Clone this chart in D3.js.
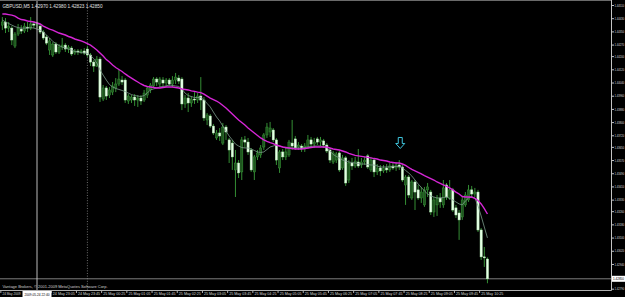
<!DOCTYPE html>
<html><head><meta charset="utf-8">
<script src="https://cdn.jsdelivr.net/npm/d3@7"></script>
<style>html,body{margin:0;padding:0;background:#000;overflow:hidden}</style>
</head><body><svg id="c" width="625" height="297"></svg>
<script>
const symbolLabel = "GBPUSD,M5";
const open = [1.44388,1.44407,1.44370,1.44370,1.44261,1.44334,1.44364,1.44352,1.44376,1.44370,
1.44395,1.44388,1.44382,1.44346,1.44316,1.44237,1.44207,1.44273,1.44225,1.44255,
1.44267,1.44243,1.44249,1.44219,1.44231,1.44225,1.44231,1.44243,1.44207,1.44164,
1.44140,1.44182,1.43940,1.44007,1.43964,1.43982,1.44007,1.44031,1.44055,1.44055,
1.43928,1.43934,1.43952,1.43934,1.43946,1.43934,1.43964,1.43995,1.44019,1.44061,
1.44031,1.44055,1.44037,1.44055,1.44031,1.44055,1.44067,1.44061,1.43910,1.43946,
1.43916,1.43940,1.43934,1.43958,1.43934,1.43813,1.43837,1.43776,1.43704,1.43734,
1.43673,1.43770,1.43692,1.43673,1.43510,1.43552,1.43498,1.43692,1.43679,1.43631,
1.43498,1.43589,1.43601,1.43649,1.43722,1.43740,1.43752,1.43692,1.43522,1.43619,
1.43589,1.43601,1.43673,1.43698,1.43649,1.43655,1.43637,1.43649,1.43692,1.43667,
1.43698,1.43679,1.43686,1.43661,1.43631,1.43558,1.43570,1.43613,1.43522,1.43583,
1.43449,1.43552,1.43534,1.43558,1.43540,1.43558,1.43595,1.43510,1.43570,1.43498,
1.43522,1.43504,1.43522,1.43510,1.43534,1.43522,1.43540,1.43528,1.43419,1.43467,
1.43340,1.43437,1.43389,1.43340,1.43298,1.43389,1.43376,1.43255,1.43298,1.43340,
1.43298,1.43419,1.43340,1.43389,1.43280,1.43249,1.43225,1.43298,1.43328,1.43389,
1.43364,1.43376,1.43146,1.42983,1.42970];
const high = [1.44437,1.44431,1.44407,1.44382,1.44346,1.44395,1.44388,1.44401,1.44407,1.44437,
1.44413,1.44407,1.44395,1.44358,1.44328,1.44310,1.44285,1.44285,1.44273,1.44310,
1.44279,1.44267,1.44261,1.44243,1.44243,1.44243,1.44249,1.44261,1.44219,1.44176,
1.44201,1.44195,1.44025,1.44019,1.44013,1.44043,1.44067,1.44116,1.44079,1.44067,
1.43970,1.43964,1.43970,1.43964,1.43964,1.43995,1.44019,1.44037,1.44073,1.44073,
1.44073,1.44073,1.44067,1.44067,1.44079,1.44098,1.44085,1.44073,1.43964,1.43976,
1.43958,1.43982,1.43976,1.44073,1.43952,1.43855,1.43849,1.43789,1.43752,1.43764,
1.43795,1.43782,1.43704,1.43692,1.43631,1.43570,1.43710,1.43716,1.43704,1.43643,
1.43601,1.43631,1.43661,1.43734,1.43795,1.43801,1.43764,1.43704,1.43631,1.43637,
1.43643,1.43692,1.43813,1.43716,1.43679,1.43667,1.43673,1.43722,1.43710,1.43704,
1.43710,1.43710,1.43698,1.43673,1.43643,1.43625,1.43619,1.43625,1.43601,1.43595,
1.43570,1.43583,1.43589,1.43637,1.43583,1.43589,1.43607,1.43589,1.43583,1.43546,
1.43540,1.43540,1.43546,1.43552,1.43552,1.43558,1.43570,1.43540,1.43479,1.43479,
1.43449,1.43449,1.43419,1.43407,1.43407,1.43431,1.43389,1.43346,1.43358,1.43370,
1.43449,1.43431,1.43449,1.43401,1.43298,1.43267,1.43346,1.43376,1.43419,1.43413,
1.43401,1.43389,1.43158,1.43043,1.42980];
const low = [1.44358,1.44340,1.44346,1.44267,1.44249,1.44322,1.44334,1.44340,1.44346,1.44358,
1.44370,1.44370,1.44334,1.44298,1.44267,1.44207,1.44195,1.44213,1.44213,1.44237,
1.44225,1.44219,1.44201,1.44207,1.44207,1.44213,1.44207,1.44195,1.44140,1.44104,
1.44134,1.43922,1.43928,1.43934,1.43946,1.43964,1.43982,1.44019,1.44025,1.43916,
1.43910,1.43916,1.43898,1.43892,1.43904,1.43922,1.43946,1.43976,1.44007,1.44019,
1.44013,1.44019,1.44013,1.44019,1.44013,1.44031,1.44031,1.43873,1.43886,1.43861,
1.43892,1.43910,1.43916,1.43873,1.43807,1.43782,1.43764,1.43722,1.43692,1.43686,
1.43661,1.43692,1.43552,1.43510,1.43346,1.43461,1.43449,1.43643,1.43601,1.43498,
1.43449,1.43570,1.43583,1.43631,1.43704,1.43710,1.43679,1.43540,1.43492,1.43570,
1.43570,1.43589,1.43631,1.43631,1.43631,1.43619,1.43619,1.43637,1.43649,1.43643,
1.43661,1.43655,1.43643,1.43613,1.43552,1.43546,1.43552,1.43498,1.43510,1.43413,
1.43431,1.43510,1.43522,1.43522,1.43522,1.43540,1.43516,1.43498,1.43467,1.43479,
1.43473,1.43492,1.43492,1.43498,1.43510,1.43504,1.43510,1.43437,1.43298,1.43340,
1.43328,1.43267,1.43328,1.43310,1.43286,1.43346,1.43237,1.43225,1.43231,1.43280,
1.43280,1.43328,1.43328,1.43255,1.43219,1.43086,1.43207,1.43286,1.43316,1.43340,
1.43346,1.43134,1.42964,1.42922,1.42823];
const close = [1.44407,1.44370,1.44382,1.44298,1.44334,1.44370,1.44352,1.44382,1.44370,1.44395,
1.44388,1.44395,1.44346,1.44310,1.44279,1.44292,1.44273,1.44225,1.44255,1.44267,
1.44243,1.44255,1.44213,1.44231,1.44225,1.44231,1.44219,1.44207,1.44164,1.44140,
1.44182,1.43952,1.44007,1.43958,1.43995,1.44019,1.44031,1.44061,1.44043,1.43934,
1.43958,1.43952,1.43934,1.43946,1.43928,1.43976,1.44007,1.44025,1.44061,1.44043,
1.44061,1.44037,1.44055,1.44031,1.44055,1.44073,1.44049,1.43910,1.43946,1.43916,
1.43940,1.43934,1.43958,1.43934,1.43825,1.43843,1.43776,1.43734,1.43734,1.43716,
1.43770,1.43740,1.43631,1.43589,1.43552,1.43492,1.43692,1.43679,1.43619,1.43510,
1.43589,1.43613,1.43643,1.43722,1.43770,1.43764,1.43692,1.43570,1.43619,1.43589,
1.43619,1.43679,1.43655,1.43643,1.43661,1.43637,1.43655,1.43692,1.43667,1.43679,
1.43679,1.43692,1.43661,1.43625,1.43570,1.43613,1.43607,1.43510,1.43583,1.43431,
1.43552,1.43534,1.43564,1.43534,1.43558,1.43570,1.43528,1.43570,1.43498,1.43522,
1.43504,1.43522,1.43510,1.43534,1.43522,1.43540,1.43528,1.43449,1.43467,1.43358,
1.43437,1.43376,1.43340,1.43376,1.43389,1.43407,1.43255,1.43328,1.43340,1.43316,
1.43401,1.43346,1.43389,1.43267,1.43237,1.43207,1.43328,1.43358,1.43389,1.43364,
1.43376,1.43146,1.42983,1.42977,1.42850];
const maSlow = [1.44455,1.44455,1.44452,1.44449,1.44443,1.44431,1.44422,1.44419,1.44413,1.44410,
1.44407,1.44401,1.44395,1.44382,1.44373,1.44364,1.44358,1.44349,1.44340,1.44334,
1.44328,1.44319,1.44313,1.44304,1.44298,1.44292,1.44285,1.44276,1.44267,1.44252,
1.44237,1.44219,1.44201,1.44179,1.44164,1.44146,1.44131,1.44119,1.44107,1.44092,
1.44079,1.44067,1.44055,1.44043,1.44031,1.44022,1.44016,1.44013,1.44010,1.44007,
1.44007,1.44010,1.44013,1.44013,1.44013,1.44010,1.44007,1.44001,1.43998,1.43995,
1.43989,1.43986,1.43982,1.43979,1.43970,1.43958,1.43946,1.43937,1.43928,1.43916,
1.43901,1.43886,1.43867,1.43849,1.43831,1.43813,1.43798,1.43782,1.43764,1.43749,
1.43734,1.43719,1.43704,1.43692,1.43683,1.43676,1.43670,1.43661,1.43655,1.43649,
1.43646,1.43643,1.43640,1.43637,1.43637,1.43637,1.43640,1.43643,1.43646,1.43649,
1.43649,1.43649,1.43649,1.43649,1.43643,1.43637,1.43634,1.43631,1.43625,1.43619,
1.43610,1.43604,1.43598,1.43595,1.43592,1.43589,1.43586,1.43583,1.43579,1.43576,
1.43570,1.43567,1.43564,1.43558,1.43555,1.43552,1.43552,1.43546,1.43537,1.43525,
1.43513,1.43504,1.43495,1.43486,1.43476,1.43467,1.43458,1.43449,1.43437,1.43428,
1.43419,1.43410,1.43401,1.43389,1.43376,1.43364,1.43349,1.43346,1.43346,1.43346,
1.43337,1.43325,1.43304,1.43276,1.43243];
const maFast = [1.44419,1.44407,1.44398,1.44388,1.44379,1.44373,1.44370,1.44370,1.44370,1.44373,
1.44370,1.44364,1.44358,1.44346,1.44328,1.44310,1.44289,1.44276,1.44264,1.44255,
1.44249,1.44243,1.44237,1.44228,1.44225,1.44222,1.44219,1.44216,1.44204,1.44185,
1.44158,1.44116,1.44085,1.44055,1.44028,1.44013,1.44004,1.43998,1.43992,1.43985,
1.43976,1.43967,1.43961,1.43958,1.43955,1.43961,1.43976,1.43995,1.44001,1.44007,
1.44013,1.44016,1.44019,1.44025,1.44022,1.44019,1.44016,1.44001,1.43976,1.43961,
1.43955,1.43949,1.43949,1.43949,1.43934,1.43913,1.43892,1.43861,1.43831,1.43807,
1.43776,1.43746,1.43716,1.43692,1.43667,1.43655,1.43646,1.43643,1.43643,1.43637,
1.43628,1.43619,1.43616,1.43619,1.43634,1.43649,1.43655,1.43661,1.43655,1.43649,
1.43643,1.43643,1.43643,1.43643,1.43643,1.43643,1.43646,1.43649,1.43652,1.43655,
1.43655,1.43655,1.43649,1.43643,1.43625,1.43604,1.43592,1.43583,1.43570,1.43564,
1.43558,1.43555,1.43552,1.43549,1.43546,1.43546,1.43543,1.43540,1.43540,1.43534,
1.43528,1.43528,1.43528,1.43528,1.43531,1.43531,1.43531,1.43522,1.43507,1.43492,
1.43473,1.43449,1.43425,1.43404,1.43383,1.43364,1.43352,1.43346,1.43340,1.43340,
1.43343,1.43346,1.43337,1.43328,1.43316,1.43304,1.43298,1.43322,1.43340,1.43346,
1.43340,1.43292,1.43231,1.43164,1.43098];
const yTickValues = [1.4451,1.4443,1.4435,1.4427,1.4420,1.4412,1.4404,1.4396,1.4388,1.4380,1.4372,
1.4365,1.4357,1.4349,1.4341,1.4333,1.4326,1.4318,1.4310,1.4302,1.4294,1.4279];
const xTickBars = [0,16,24,32,40,48,56,64,72,80,88,96,104,112,120,128,136,144,152];
const xTickLabels = ["24 May 2009","24 May 23:05","24 May 23:45","25 May 00:25","25 May 01:05",
"25 May 01:45","25 May 02:25","25 May 03:05","25 May 03:45","25 May 04:25","25 May 05:05",
"25 May 05:45","25 May 06:25","25 May 07:05","25 May 07:45","25 May 08:25","25 May 09:05",
"25 May 09:45","25 May 10:25"];
const vlineBar = 11, vlineLabel = "2009.05.24 22:40";
const separatorBar = 27;
const bidPrice = 1.42850;
const arrowBar = 126, arrowPrice = 1.43640;
const copyright = "Vantage Brokers, \u00a9 2001-2009 MetaQuotes Software Corp.";

const W = 625, H = 297, plotRight = 611.5, plotBottom = 290.5;
const svg = d3.select("#c");
svg.append("rect").attr("width", W).attr("height", H).attr("fill", "#000");

const x = d3.scaleLinear().domain([0, open.length - 1]).range([2.35, 487.45]);
const y = d3.scaleLinear().domain([1.4279, 1.4451]).range([288.7, 5]);
const FONT = "Liberation Sans, Arial, sans-serif";

svg.append("defs").append("clipPath").attr("id", "plot")
  .append("rect").attr("x", 0).attr("y", 0).attr("width", plotRight).attr("height", plotBottom);
const g = svg.append("g").attr("clip-path", "url(#plot)");

// period separator (dotted)
g.append("line").attr("x1", x(separatorBar)).attr("x2", x(separatorBar))
  .attr("y1", 0).attr("y2", plotBottom).attr("stroke", "#8a8a8a")
  .attr("stroke-width", 0.8).attr("stroke-dasharray", "1,1.6");

// bid line
g.append("line").attr("x1", 0).attr("x2", plotRight).attr("y1", y(bidPrice)).attr("y2", y(bidPrice))
  .attr("stroke", "#8c8c8c").attr("stroke-width", 0.9);

// candles
const bars = d3.range(open.length);
g.selectAll(".wick").data(bars).join("line").attr("class", "wick")
  .attr("x1", i => x(i)).attr("x2", i => x(i))
  .attr("y1", i => y(high[i])).attr("y2", i => y(low[i]))
  .attr("stroke", "#3a9e3a").attr("stroke-width", 0.9);
g.selectAll(".body").data(bars).join("rect").attr("class", "body")
  .attr("x", i => x(i) - 1.1).attr("width", 2.2)
  .attr("y", i => y(Math.max(open[i], close[i])))
  .attr("height", i => Math.max(0.7, Math.abs(y(open[i]) - y(close[i]))))
  .attr("fill", i => close[i] >= open[i] ? "#1f561f" : "#e6ffe6")
  .attr("stroke", i => close[i] >= open[i] ? "#3a9e3a" : "#b5eeb5")
  .attr("stroke-width", 0.45);

// moving averages
const ln = d3.line().x((d, i) => x(i)).y(d => y(d));
g.append("path").datum(maFast).attr("d", ln).attr("fill", "none")
  .attr("stroke", "#7c9c8c").attr("stroke-width", 0.8);
g.append("path").datum(maSlow).attr("d", ln).attr("fill", "none")
  .attr("stroke", "#d626d6").attr("stroke-width", 1.4);

// arrow object
const ax = x(arrowBar) + 1, ay = y(arrowPrice);
g.append("path")
  .attr("d", `M${ax},${ay} L${ax-4.5},${ay-5} L${ax-2},${ay-5} L${ax-2},${ay-11} L${ax+2},${ay-11} L${ax+2},${ay-5} L${ax+4.5},${ay-5} Z`)
  .attr("fill", "none").attr("stroke", "#3fc4dc").attr("stroke-width", 1);

// vertical line object
svg.append("line").attr("x1", x(vlineBar)).attr("x2", x(vlineBar))
  .attr("y1", 0).attr("y2", H).attr("stroke", "#cfcfcf").attr("stroke-width", 0.9);

// frame
svg.append("line").attr("x1", 0).attr("x2", plotRight).attr("y1", 0.5).attr("y2", 0.5)
  .attr("stroke", "#6a6a6a").attr("stroke-width", 1);
svg.append("line").attr("x1", plotRight).attr("x2", plotRight).attr("y1", 0).attr("y2", plotBottom)
  .attr("stroke", "#c4c4c4").attr("stroke-width", 1);
svg.append("line").attr("x1", 0).attr("x2", plotRight).attr("y1", plotBottom).attr("y2", plotBottom)
  .attr("stroke", "#b0b0b0").attr("stroke-width", 1);

// y axis
const yAxis = d3.axisRight(y).tickValues(yTickValues).tickSize(2.5).tickSizeOuter(0)
  .tickFormat(d3.format(".5f"));
svg.append("g").attr("transform", `translate(${plotRight},0)`).call(yAxis)
  .attr("font-family", FONT).attr("font-size", 3.8)
  .call(a => a.select(".domain").remove())
  .call(a => a.selectAll("line").attr("stroke", "#c4c4c4"))
  .call(a => a.selectAll("text").attr("fill", "#d6d6d6").attr("x", 3)
     .attr("textLength", 9.8).attr("lengthAdjust", "spacingAndGlyphs"));

// x axis
const xAxis = d3.axisBottom(x).tickValues(xTickBars).tickSize(2.5).tickSizeOuter(0)
  .tickFormat((d, i) => xTickLabels[i]);
svg.append("g").attr("transform", `translate(-2,${plotBottom})`).call(xAxis)
  .attr("font-family", FONT).attr("font-size", 4.3)
  .call(a => a.select(".domain").remove())
  .call(a => a.selectAll("line").attr("stroke", "#b0b0b0"))
  .call(a => a.selectAll("text").attr("fill", "#d6d6d6").attr("text-anchor", "start")
     .attr("x", 1.6).attr("y", 1.6)
     .attr("textLength", (d, i) => i === 0 ? 18 : 22).attr("lengthAdjust", "spacingAndGlyphs"));

// vertical line label box
const vx = x(vlineBar);
svg.append("rect").attr("x", vx - 14.5).attr("y", 291).attr("width", 29).attr("height", 6).attr("fill", "#ffffff");
svg.append("text").attr("x", vx - 12.5).attr("y", 295.8).attr("font-family", FONT).attr("font-size", 3.8)
  .attr("fill", "#000").attr("textLength", 25).attr("lengthAdjust", "spacingAndGlyphs").text(vlineLabel);

// bid box
const by = y(bidPrice);
svg.append("rect").attr("x", plotRight + 0.5).attr("y", by - 3).attr("width", 13).attr("height", 6).attr("fill", "#ffffff");
svg.append("text").attr("x", plotRight + 1.5).attr("y", by + 1.6).attr("font-family", FONT).attr("font-size", 4)
  .attr("fill", "#000").attr("textLength", 11).attr("lengthAdjust", "spacingAndGlyphs")
  .text(d3.format(".5f")(bidPrice));

// header & copyright
const last = open.length - 1;
const fmt = d3.format(".5f");
svg.append("text").attr("x", 2.5).attr("y", 7.5).attr("font-family", FONT).attr("font-size", 4.6)
  .attr("fill", "#e0e0e0").attr("textLength", 100).attr("lengthAdjust", "spacingAndGlyphs")
  .text(`${symbolLabel}  ${fmt(open[last])} ${fmt(high[last])} ${fmt(low[last])} ${fmt(close[last])}`);
svg.append("text").attr("x", 2.5).attr("y", 288).attr("font-family", FONT).attr("font-size", 4.3)
  .attr("fill", "#d0d0d0").attr("textLength", 105).attr("lengthAdjust", "spacingAndGlyphs")
  .text(copyright);
</script></body></html>
